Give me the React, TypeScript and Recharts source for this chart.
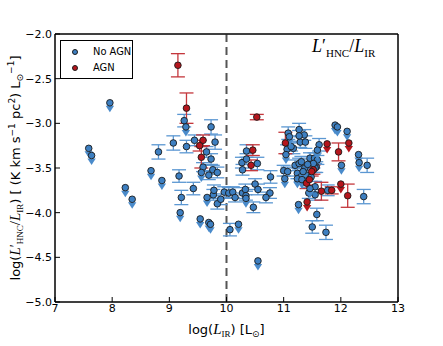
import React from "react"
import {
  ScatterChart,
  Scatter,
  XAxis,
  YAxis,
  ErrorBar,
  ReferenceLine,
  ReferenceArea,
  Legend,
} from "recharts"

// [log L_IR, log(L'HNC/L_IR), error]
const noAgnDetections: [number, number, number][] = [
  [8.81, -3.32, 0.08], [9.07, -3.22, 0.08], [9.26, -2.97, 0.07], [9.3, -3.26, 0.07],
  [9.44, -3.19, 0.06], [9.73, -3.04, 0.08], [9.8, -3.21, 0.08], [9.65, -3.32, 0.06],
  [9.73, -3.4, 0.06], [9.59, -3.49, 0.05], [9.76, -3.52, 0.05], [9.84, -3.55, 0.06],
  [9.69, -3.58, 0.05], [9.17, -3.59, 0.07], [9.21, -3.83, 0.08], [9.42, -3.73, 0.07],
  [9.77, -3.8, 0.06], [9.84, -3.9, 0.06], [9.9, -3.85, 0.06], [9.78, -3.75, 0.06],
  [9.96, -3.77, 0.06], [10.04, -3.78, 0.06], [10.11, -3.77, 0.06], [10.15, -3.83, 0.05],
  [10.06, -4.19, 0.07], [10.27, -3.44, 0.06], [10.28, -3.52, 0.06], [10.35, -3.4, 0.06],
  [10.28, -3.78, 0.06], [10.33, -3.74, 0.06], [10.34, -3.81, 0.05], [10.35, -3.31, 0.07],
  [10.54, -3.45, 0.07], [10.77, -3.6, 0.07], [10.5, -3.68, 0.06], [10.55, -3.74, 0.06],
  [10.76, -3.78, 0.06], [10.69, -3.83, 0.06], [10.47, -3.94, 0.06], [11.0, -3.53, 0.06],
  [11.07, -3.54, 0.05], [11.08, -3.11, 0.07], [11.06, -3.29, 0.05], [11.27, -3.07, 0.07],
  [11.36, -3.13, 0.06], [11.29, -3.21, 0.06], [11.38, -3.21, 0.07], [11.17, -3.28, 0.06],
  [11.62, -3.24, 0.07], [11.2, -3.47, 0.06], [11.27, -3.45, 0.06], [11.31, -3.43, 0.06],
  [11.46, -3.39, 0.06], [11.54, -3.39, 0.06], [11.59, -3.41, 0.05], [11.57, -3.49, 0.06],
  [11.37, -3.5, 0.06], [11.44, -3.78, 0.06], [11.55, -3.71, 0.06], [11.55, -3.8, 0.06],
  [11.77, -3.75, 0.06], [11.58, -4.02, 0.07], [11.5, -4.16, 0.07], [11.74, -4.22, 0.08],
  [12.46, -3.47, 0.08], [12.4, -3.82, 0.08], [11.27, -3.14, 0.06], [11.13, -3.26, 0.05],
  [11.24, -3.56, 0.06], [11.3, -3.6, 0.05], [11.4, -3.58, 0.05], [11.48, -3.6, 0.05],
  [11.55, -3.5, 0.05], [11.52, -3.45, 0.05], [11.42, -3.46, 0.05],
]

const noAgnLimits: [number, number][] = [
  [7.96, -2.77], [7.59, -3.28], [7.64, -3.36], [8.68, -3.53], [8.87, -3.64],
  [8.23, -3.72], [8.35, -3.85], [9.29, -3.04], [9.56, -3.55], [9.19, -4.0],
  [9.54, -4.07], [9.69, -4.11], [9.72, -4.13], [9.66, -3.83], [10.21, -4.13],
  [10.55, -4.54], [11.02, -3.62], [11.04, -3.35], [11.59, -3.3], [11.9, -3.02],
  [11.94, -3.04], [11.24, -3.62], [11.34, -3.54], [11.32, -3.63], [11.46, -3.73],
  [11.26, -3.91], [12.11, -3.09], [12.31, -3.35], [12.32, -3.44], [12.01, -3.47],
  [10.34, -3.84], [11.1, -3.15],
]

const agnDetections: [number, number, number][] = [
  [9.15, -2.35, 0.13], [9.3, -2.83, 0.17], [9.59, -3.19, 0.06], [9.53, -3.25, 0.06],
  [9.56, -3.38, 0.12], [10.53, -2.93, 0.03], [10.46, -3.3, 0.06], [10.43, -3.47, 0.06],
  [11.96, -3.32, 0.1], [11.52, -3.52, 0.05], [11.49, -3.54, 0.05], [11.4, -3.67, 0.06],
  [11.45, -3.63, 0.06], [11.66, -3.76, 0.1], [11.84, -3.75, 0.04], [12.12, -3.81, 0.13],
  [11.03, -3.22, 0.12],
]

const agnLimits: [number, number][] = [
  [11.76, -3.23], [12.14, -3.22], [11.41, -3.88], [12.0, -3.68],
]

const xTicks = [7, 8, 9, 10, 11, 12, 13]
const yTicks = [-5, -4.5, -4, -3.5, -3, -2.5, -2]
const xDomain = [7, 13]
const yDomain = [-5, -2]

const BLUE = "#3d7fc1"
const BLUE_LIM = "#4a8bcb"
const BLUE_ERR = "#5b97d2"
const RED = "#b5161d"
const RED_ERR = "#c4373c"
const SANS = "DejaVu Sans"
const SERIF = "Liberation Serif"

const toRows = (rows: number[][]) => rows.map(([x, y, err]) => ({ x, y, err }))

const fmtY = (v: number) => (v < 0 ? "\u2212" : "") + Math.abs(v).toFixed(1)

function dotShape(fill: string) {
  return (p: any) => (
    <circle cx={p.cx} cy={p.cy} r={3.3} fill={fill} stroke="#1b1b1b" strokeWidth={0.9} />
  )
}

function limitShape(fill: string, tri: string) {
  return (p: any) => (
    <g>
      <path
        d={`M${p.cx - 4.2},${p.cy + 3} L${p.cx + 4.2},${p.cy + 3} L${p.cx},${p.cy + 9.5} Z`}
        fill={tri}
      />
      <circle cx={p.cx} cy={p.cy} r={3.3} fill={fill} stroke="#1b1b1b" strokeWidth={0.9} />
    </g>
  )
}

const noShape = () => <g />

const YLabel = (props: any) => {
  const vb = props.viewBox || { y: 34, height: 268 }
  const x = 20
  const y = vb.y + vb.height / 2
  return (
    <text
      x={x}
      y={y}
      transform={`rotate(-90, ${x}, ${y})`}
      textAnchor="middle"
      fontSize={13}
      fontFamily={SANS}
      fill="#000"
    >
      <tspan>log(</tspan>
      <tspan fontFamily={SERIF} fontStyle="italic" fontSize={15}>L</tspan>
      <tspan fontFamily={SERIF} fontSize={14}>{"\u2032"}</tspan>
      <tspan fontFamily={SERIF} fontSize={9} dy={3}>HNC</tspan>
      <tspan fontFamily={SERIF} fontSize={15} dy={-3}>/</tspan>
      <tspan fontFamily={SERIF} fontStyle="italic" fontSize={15}>L</tspan>
      <tspan fontFamily={SERIF} fontSize={9} dy={3}>IR</tspan>
      <tspan dy={-3}>) [ (K km s</tspan>
      <tspan fontSize={9} dy={-5}>{"\u22121"}</tspan>
      <tspan dy={5}> pc</tspan>
      <tspan fontSize={9} dy={-5}>2</tspan>
      <tspan dy={5}>) L</tspan>
      <tspan fontSize={9} dy={3}>{"\u2299"}</tspan>
      <tspan fontSize={9} dy={-9}>{"\u22121"}</tspan>
      <tspan dy={6}>]</tspan>
    </text>
  )
}

const XLabel = (props: any) => {
  const vb = props.viewBox || { x: 55, width: 343 }
  const x = vb.x + vb.width / 2
  return (
    <text x={x} y={334} textAnchor="middle" fontSize={13} fontFamily={SANS} fill="#000">
      <tspan>log(</tspan>
      <tspan fontFamily={SERIF} fontStyle="italic" fontSize={15}>L</tspan>
      <tspan fontFamily={SERIF} fontSize={9} dy={3}>IR</tspan>
      <tspan dy={-3}>) [L</tspan>
      <tspan fontSize={9} dy={3}>{"\u2299"}</tspan>
      <tspan dy={-3}>]</tspan>
    </text>
  )
}

const legendItems = [
  { name: "No AGN", color: BLUE },
  { name: "AGN", color: RED },
]

const LegendBox = () => (
  <div
    style={{
      border: "1px solid #000",
      background: "#fff",
      width: 73,
      height: 39,
      boxSizing: "border-box",
      fontFamily: "'DejaVu Sans Condensed', 'Liberation Sans Narrow', 'DejaVu Sans'",
      fontSize: 11,
      padding: "3px 0 0 11px",
      lineHeight: "16px",
      whiteSpace: "nowrap",
      textAlign: "left",
      overflow: "hidden",
    }}
  >
    {legendItems.map((e) => (
      <div key={e.name} style={{ display: "flex", alignItems: "center" }}>
        <span
          style={{
            flexShrink: 0,
            width: 4,
            height: 4,
            borderRadius: "50%",
            background: e.color,
            border: "0.8px solid #1b1b1b",
            display: "inline-block",
            marginRight: 15,
          }}
        />
        {e.name}
      </div>
    ))}
  </div>
)

export default function App() {
  const tickStyle = { fontSize: 11, fontFamily: SANS, fill: "#000" }
  const line = { stroke: "#000", strokeWidth: 1 }
  return (
    <div style={{ position: "absolute", left: 0, top: 0, width: 443, height: 346, background: "#fff" }}>
      <ScatterChart width={443} height={346} margin={{ top: 33, right: 44, bottom: 14, left: 0 }}>
        <XAxis
          type="number"
          dataKey="x"
          domain={xDomain}
          ticks={xTicks}
          height={30}
          tickSize={-5}
          tickMargin={7}
          tick={tickStyle}
          axisLine={line}
          tickLine={line}
          allowDataOverflow
          label={{ content: XLabel }}
        />
        <XAxis
          xAxisId="top"
          orientation="top"
          type="number"
          dataKey="x"
          domain={xDomain}
          ticks={xTicks}
          height={1}
          tickSize={-5}
          tick={false}
          axisLine={line}
          tickLine={line}
          allowDataOverflow
        />
        <YAxis
          type="number"
          dataKey="y"
          domain={yDomain}
          ticks={yTicks}
          width={55}
          tickSize={-5}
          tickMargin={8}
          tickFormatter={fmtY}
          tick={tickStyle}
          axisLine={line}
          tickLine={line}
          allowDataOverflow
          label={{ content: YLabel }}
        />
        <YAxis
          yAxisId="right"
          orientation="right"
          type="number"
          dataKey="y"
          domain={yDomain}
          ticks={yTicks}
          width={1}
          tickSize={-5}
          tick={false}
          axisLine={line}
          tickLine={line}
          allowDataOverflow
        />
        <ReferenceArea
          x1={xDomain[0]}
          x2={xDomain[1]}
          y1={yDomain[0]}
          y2={yDomain[1]}
          fill="none"
          stroke="#000"
          strokeWidth={1}
          ifOverflow="visible"
        />
        <ReferenceLine x={10} stroke="#555" strokeWidth={2} strokeDasharray="8 5" />
        {/* invisible series so the frame axes have something to scale */}
        <Scatter
          data={toRows(agnLimits)}
          xAxisId="top"
          yAxisId="right"
          shape={noShape}
          legendType="none"
          isAnimationActive={false}
        />
        <Scatter data={toRows(noAgnDetections)} shape={dotShape(BLUE)} isAnimationActive={false}>
          <ErrorBar dataKey="err" direction="y" width={7} stroke={BLUE_ERR} strokeWidth={1.3} isAnimationActive={false} />
        </Scatter>
        <Scatter data={toRows(noAgnLimits)} shape={limitShape(BLUE, BLUE_LIM)} isAnimationActive={false} />
        <Scatter data={toRows(agnDetections)} shape={dotShape(RED)} isAnimationActive={false}>
          <ErrorBar dataKey="err" direction="y" width={7} stroke={RED_ERR} strokeWidth={1.3} isAnimationActive={false} />
        </Scatter>
        <Scatter data={toRows(agnLimits)} shape={limitShape(RED, RED)} isAnimationActive={false} />
        <Legend
          content={LegendBox}
          layout="horizontal"
          verticalAlign="middle"
          align="center"
          wrapperStyle={{ position: "absolute", top: 40, left: 60, width: 73 }}
        />
      </ScatterChart>
      <div
        style={{
          position: "absolute",
          left: 312,
          top: 36,
          fontFamily: SERIF,
          fontSize: 18,
          whiteSpace: "nowrap",
        }}
      >
        <i>L</i>
        <span>{"\u2032"}</span>
        <sub style={{ fontSize: 11 }}>HNC</sub>
        <span>/</span>
        <i>L</i>
        <sub style={{ fontSize: 11 }}>IR</sub>
      </div>
    </div>
  )
}
